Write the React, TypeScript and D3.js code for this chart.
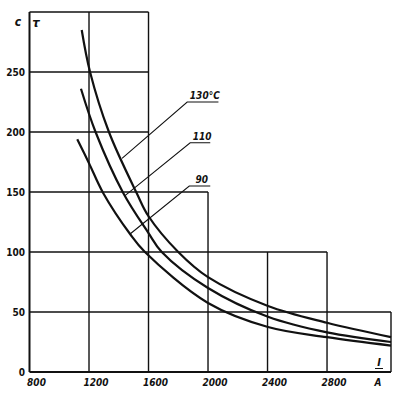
import React from "react";
import * as d3 from "d3";

// ---- data (current I in A, time τ in s) ----
const xTicks = [800, 1200, 1600, 2000, 2400, 2800];
const yTicks = [0, 50, 100, 150, 200, 250];

const curve130: [number, number][] = [
  [1151, 285], [1207, 250], [1334, 200], [1521, 149], [1599, 130],
  [1800, 100], [2000, 79], [2403, 55], [2800, 41], [3230, 29],
];
const curve110: [number, number][] = [
  [1146, 236], [1244, 200], [1431, 149], [1599, 116], [1689, 100],
  [2000, 70], [2403, 46], [2800, 33], [3230, 25],
];
const curve90: [number, number][] = [
  [1121, 194], [1200, 174], [1296, 149], [1476, 115], [1576, 100],
  [2000, 57.5], [2403, 37.5], [2800, 29], [3230, 22],
];
const curveLabels = ["130°C", "110", "90"];
// leader lines: [point on curve], [elbow], [end of underline]
const leaders: [number, number][][] = [
  [[1422, 178], [1860, 225], [2070, 225]],
  [[1442, 147], [1880, 191], [2015, 191]],
  [[1476, 115], [1874, 155], [2015, 155]],
];

// stepped grid (segments in data units)
const hGrid: [number, number, number][] = [
  [800, 1600, 300], [800, 1600, 250], [800, 1600, 200], [800, 2000, 150],
  [800, 2800, 100], [800, 3230, 50], [800, 3230, 0],
];
const vGrid: [number, number, number][] = [
  [800, 0, 300], [1200, 0, 300], [1600, 0, 300], [2000, 0, 150],
  [2400, 0, 100], [2800, 0, 100], [3230, 0, 50],
];

const W = 399, H = 395;
const x = d3.scaleLinear().domain([800, 3230]).range([29.5, 391]);
const y = d3.scaleLinear().domain([0, 300]).range([372, 12]);
const font = "'DejaVu Sans Condensed', 'Liberation Sans Narrow', 'DejaVu Sans', sans-serif";
const ink = "#111";

export default function App() {
  const line = d3.line<[number, number]>().x(d => x(d[0])).y(d => y(d[1])).curve(d3.curveCatmullRom.alpha(0.5));
  const straight = d3.line<[number, number]>().x(d => x(d[0])).y(d => y(d[1]));
  const curves = [curve130, curve110, curve90];
  return (
    <svg width={W} height={H} style={{ position: "absolute", left: 0, top: 0, background: "#fff" }}>
      <rect width={W} height={H} fill="#fff" />
      {hGrid.map(([a, b, v], i) => (
        <line key={"h" + i} x1={x(a)} x2={x(b)} y1={y(v)} y2={y(v)} stroke={ink}
          strokeWidth={v === 0 ? 2 : 1.4} />
      ))}
      {vGrid.map(([v, a, b], i) => (
        <line key={"v" + i} x1={x(v)} x2={x(v)} y1={y(a)} y2={y(b)} stroke={ink}
          strokeWidth={v === 800 ? 2 : 1.4} />
      ))}
      {curves.map((c, i) => (
        <path key={"c" + i} d={line(c) || ""} fill="none" stroke={ink} strokeWidth={2.2} />
      ))}
      {leaders.map((l, i) => (
        <path key={"l" + i} d={straight(l) || ""} fill="none" stroke={ink} strokeWidth={1.1} />
      ))}
      {leaders.map((l, i) => (
        <text key={"lt" + i} x={(x(l[1][0]) + x(l[2][0])) / 2 + 2} y={y(l[1][1]) - 3}
          textAnchor="middle" fontFamily={font} fontWeight="bold" fontStyle="italic"
          fontSize={10} fill={ink}>{curveLabels[i]}</text>
      ))}
      {yTicks.map(t => (
        <text key={"yt" + t} x={25} y={y(t) + 4} textAnchor="end" fontFamily={font}
          fontWeight="bold" fontSize={10} fill={ink}>{t}</text>
      ))}
      {xTicks.map(t => (
        <text key={"xt" + t} x={x(t) + 7} y={386} textAnchor="middle" fontFamily={font}
          fontWeight="bold" fontStyle="italic" fontSize={10} fill={ink}>{t}</text>
      ))}
      <text x={18} y={26} textAnchor="middle" fontFamily={font} fontStyle="italic" fontWeight="bold" fontSize={12} fill={ink}>c</text>
      <text x={36} y={27} textAnchor="middle" fontFamily={font} fontStyle="italic" fontWeight="bold" fontSize={13} fill={ink}>τ</text>
      <text x={379} y={366} textAnchor="middle" fontFamily={font} fontStyle="italic" fontWeight="bold" fontSize={11} fill={ink}>I</text>
      <line x1={375} x2={383} y1={368.5} y2={368.5} stroke={ink} strokeWidth={1} />
      <text x={378} y={386} textAnchor="middle" fontFamily={font} fontStyle="italic" fontWeight="bold" fontSize={10} fill={ink}>A</text>
    </svg>
  );
}
